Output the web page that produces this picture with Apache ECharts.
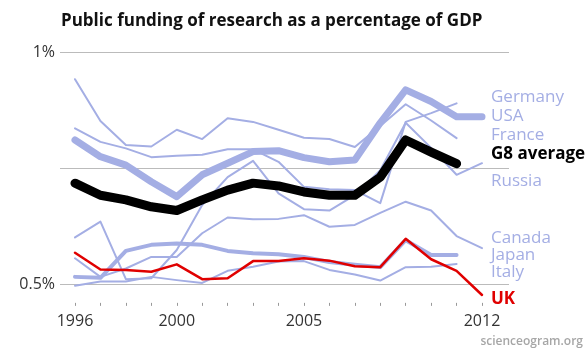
<!DOCTYPE html>
<html>
<head>
<meta charset="utf-8">
<script src="https://cdn.jsdelivr.net/npm/echarts@6/dist/echarts.min.js"></script>
<style>
	html, body { margin: 0; padding: 0; background: #ffffff; }
	#chart-container { width: 585px; height: 351px; }
</style>
</head>
<body>
<div id="chart-container"></div>
<script>
	// years on the x axis, and the ones that carry a label
	var years = [1996, 1997, 1998, 1999, 2000, 2001, 2002, 2003, 2004, 2005, 2006, 2007, 2008, 2009, 2010, 2011, 2012];
	var year_labels = [1996, 2000, 2005, 2012];

	// public R&D funding, % of GDP
	var germany = [0.836, 0.807, 0.793, 0.774, 0.777, 0.779, 0.791, 0.791, 0.764, 0.710, 0.705, 0.703, 0.675, 0.850, 0.869, 0.890];
	var usa     = [0.811, 0.775, 0.757, 0.721, 0.689, 0.736, 0.761, 0.786, 0.788, 0.773, 0.764, 0.768, 0.848, 0.919, 0.894, 0.861, 0.861];
	var france  = [0.942, 0.852, 0.800, 0.797, 0.833, 0.813, 0.858, 0.850, 0.833, 0.816, 0.813, 0.796, 0.841, 0.888, 0.853, 0.815];
	var g8      = [0.718, 0.692, 0.682, 0.667, 0.659, 0.682, 0.703, 0.718, 0.712, 0.699, 0.692, 0.692, 0.731, 0.811, 0.785, 0.760];
	var russia  = [0.601, 0.635, 0.511, 0.513, 0.574, 0.671, 0.731, 0.766, 0.696, 0.662, 0.659, 0.692, 0.746, 0.848, 0.794, 0.736, 0.761];
	var canada  = [0.556, 0.516, 0.534, 0.559, 0.559, 0.610, 0.644, 0.640, 0.641, 0.649, 0.624, 0.628, 0.654, 0.678, 0.659, 0.604, 0.578];
	var japan   = [0.516, 0.514, 0.572, 0.585, 0.588, 0.585, 0.572, 0.567, 0.565, 0.559, 0.548, 0.542, 0.537, 0.595, 0.563, 0.563];
	var italy   = [0.497, 0.506, 0.506, 0.516, 0.509, 0.503, 0.529, 0.538, 0.549, 0.550, 0.531, 0.521, 0.508, 0.537, 0.538, 0.544];
	var uk      = [0.568, 0.532, 0.531, 0.527, 0.543, 0.511, 0.513, 0.550, 0.550, 0.556, 0.551, 0.539, 0.537, 0.598, 0.554, 0.529, 0.477];

	var blue = '#a4aee4';
	var red = '#e00000';
	var font_family = '"Open Sans", "DejaVu Sans", sans-serif';

	function pairs(values) {
		return values.map(function (v, i) { return [years[i], v]; });
	}

	function country(name, values, color, width, z) {
		return {
			name: name,
			type: 'line',
			xAxisIndex: 0,
			yAxisIndex: 0,
			data: pairs(values),
			showSymbol: false,
			symbol: 'none',
			clip: false,
			z: z,
			lineStyle: {
				color: color,
				width: width,
				cap: 'round',
				join: 'round'
			}
		};
	}

	// labels on the right, stacked the way the original does it
	var end_labels = [
		{ text: 'Germany',    y: 97,  color: blue,   bold: false },
		{ text: 'USA',        y: 116, color: blue,   bold: false },
		{ text: 'France',     y: 135, color: blue,   bold: false },
		{ text: 'G8 average', y: 154, color: '#000', bold: true },
		{ text: 'Russia',     y: 181, color: blue,   bold: false },
		{ text: 'Canada',     y: 238, color: blue,   bold: false },
		{ text: 'Japan',      y: 255, color: blue,   bold: false },
		{ text: 'Italy',      y: 272, color: blue,   bold: false },
		{ text: 'UK',         y: 299, color: red,    bold: true }
	];

	var chart = echarts.init(document.getElementById('chart-container'), null, { renderer: 'canvas' });

	var graphics = end_labels.map(function (l) {
		return {
			type: 'text',
			x: 491,
			y: l.y,
			style: {
				text: l.text,
				fill: l.color,
				fontSize: 17,
				fontWeight: l.bold ? 'bold' : 'normal',
				fontFamily: font_family,
				verticalAlign: 'middle'
			}
		};
	});
	graphics.push({
		type: 'text',
		right: 2,
		top: 336,
		style: {
			text: 'scienceogram.org',
			fill: '#a6a6a6',
			fontSize: 12,
			fontWeight: 600,
			fontFamily: font_family
		}
	});

	var options = {
		backgroundColor: '#ffffff',
		animation: false,
		title: {
			text: 'Public funding of research as a percentage of GDP',
			left: 61,
			top: 13,
			padding: 0,
			textStyle: {
				fontSize: 17,
				fontWeight: 'bold',
				fontFamily: font_family,
				color: '#111'
			}
		},
		grid: [
			// data area: 1996 .. 2012
			{ left: 75, right: 103, top: 52.3, bottom: 48.14 },
			// wider area only for the horizontal rules and % labels
			{ left: 60, right: 76, top: 52.3, bottom: 66.7 }
		],
		xAxis: [
			{
				type: 'value',
				gridIndex: 0,
				min: 1996,
				max: 2012,
				interval: 1,
				axisLine: { show: false },
				axisTick: { show: true, length: 3, lineStyle: { color: '#999', width: 1 } },
				splitLine: { show: false },
				axisLabel: {
					margin: 11,
					fontSize: 16,
					fontFamily: font_family,
					color: '#333',
					showMinLabel: true,
					showMaxLabel: true,
					formatter: function (value) {
						return year_labels.indexOf(value) >= 0 ? String(value) : '';
					}
				}
			},
			{
				type: 'value',
				gridIndex: 1,
				min: 0,
				max: 1,
				show: false
			}
		],
		yAxis: [
			{
				type: 'value',
				gridIndex: 0,
				min: 0.46,
				max: 1,
				show: false
			},
			{
				type: 'value',
				gridIndex: 1,
				min: 0.5,
				max: 1,
				interval: 0.25,
				axisLine: { show: false },
				axisTick: { show: false },
				splitLine: { lineStyle: { color: '#bbbbbb', width: 1 } },
				axisLabel: {
					margin: 5,
					fontSize: 16,
					fontFamily: font_family,
					color: '#333',
					formatter: function (value) {
						if (value === 1) return '1%';
						if (value === 0.5) return '0.5%';
						return '';
					}
				}
			}
		],
		graphic: graphics,
		series: [
			country('Germany', germany, blue, 2, 2),
			country('USA', usa, blue, 7, 2),
			country('France', france, blue, 2, 2),
			country('Russia', russia, blue, 2, 2),
			country('Canada', canada, blue, 2, 2),
			country('Japan', japan, blue, 4, 2),
			country('Italy', italy, blue, 2, 2),
			country('G8 average', g8, '#000', 9, 3),
			country('UK', uk, red, 2.5, 4)
		]
	};

	chart.setOption(options, true);
</script>
</body>
</html>
